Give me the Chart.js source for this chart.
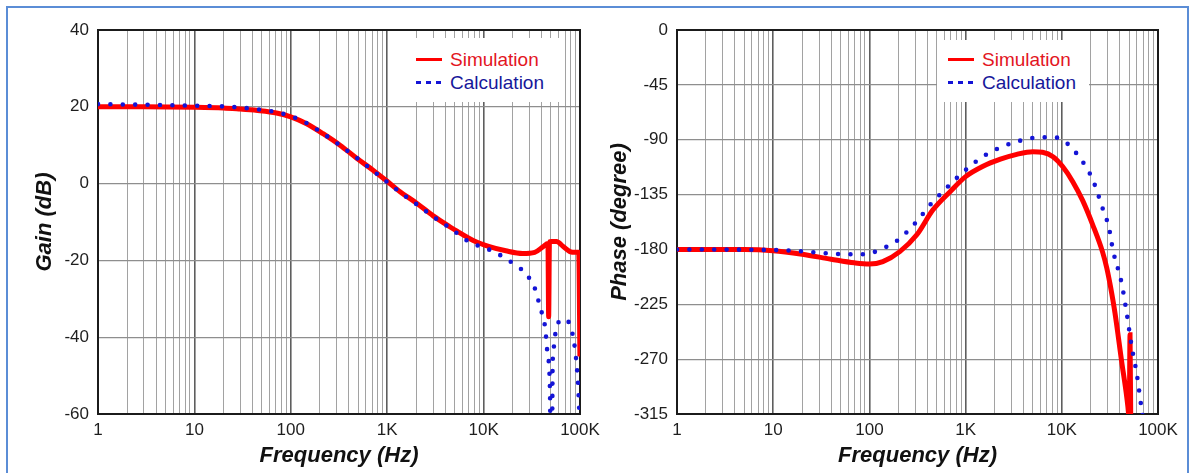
<!DOCTYPE html>
<html>
<head>
<meta charset="utf-8">
<script src="https://cdn.jsdelivr.net/npm/chart.js@4.4.1/dist/chart.umd.min.js"></script>
<style>
  html, body { margin: 0; padding: 0; background: #fff; }
  body { width: 1194px; height: 473px; position: relative; overflow: hidden;
         font-family: 'Liberation Sans', Arial, sans-serif; }
  #frame { position: absolute; left: 6px; top: 6px; width: 1183px; height: 490px;
           border: 2px solid #5b8dd6; box-sizing: border-box; }
  canvas { position: absolute; top: 0; }
  #gainCanvas { left: 0; }
  #phaseCanvas { left: 597px; }
  .legend { position: absolute; background: #fff; box-sizing: border-box; font-size: 19px; }
  .legend .row { height: 23px; display: flex; align-items: center; white-space: nowrap; }
  .legend .swatch { width: 26px; height: 3px; margin-right: 8px; flex: none; }
  #gainLegend { left: 410px; top: 38px; width: 150px; height: 64px; padding: 10px 0 0 6px; }
  #phaseLegend { left: 937px; top: 40px; width: 152px; height: 62px; padding: 8px 0 0 11px; }
</style>
</head>
<body>
<div id="frame"></div>
<canvas id="gainCanvas" width="620" height="473"></canvas>
<canvas id="phaseCanvas" width="597" height="473"></canvas>
<div id="gainLegend" class="legend"></div>
<div id="phaseLegend" class="legend"></div>
<script>
// ---- Frequency axis (Hz) ----
const decadeTicks  = [1, 10, 100, 1000, 10000, 100000];
const decadeLabels = ['1', '10', '100', '1K', '10K', '100K'];
const minorSteps   = [2, 3, 4, 5, 6, 7, 8, 9];

// ---- Value axes ----
const gainTicks  = [40, 20, 0, -20, -40, -60];
const phaseTicks = [0, -45, -90, -135, -180, -225, -270, -315];

// ---- Gain, simulation ----
const gainSimFreq = [1, 3, 10, 20, 30, 48, 71, 100, 146, 216, 324, 483, 713, 1000, 1360, 2020, 3000,
  4500, 5300, 7800, 11500, 17000, 25400, 33900, 41500, 46500, 47300, 48200, 50400, 57000, 67000,
  78600, 90000, 97000, 99800];
const gainSimDb = [20, 20, 19.9, 19.7, 19.4, 19.0, 18.4, 17.4, 15.6, 13.0, 10.0, 6.6, 3.5, 0.6, -2.1, -5.1, -8.4,
  -11.3, -12.4, -14.8, -16.4, -17.5, -18.2, -17.9, -16.4, -15.6, -34.7, -15.2, -15.1, -15.1, -16.4,
  -17.7, -17.9, -17.9, -45];

// ---- Gain, calculation ----
const gainCalcFreq = [1, 2, 4, 10, 20, 30, 50, 70, 100, 150, 220, 330, 500, 700, 1000, 1400, 2000, 3000,
  4500, 7100, 11200, 16300, 23900, 28400, 31000, 35500, 37800, 43400, 45800, 48800, 49600, 51200,
  52000, 52800, 56400, 62600, 72000, 81000, 86000, 92000, 96000, 99900];
const gainCalcDb = [20.7, 20.6, 20.5, 20.3, 20.1, 19.8, 19.2, 18.6, 17.6, 15.6, 12.9, 9.8, 6.4, 3.5, 0.4, -2.5, -5.3, -8.6,
  -11.6, -15.2, -17.1, -19.2, -22.1, -23.5, -25.8, -28.4, -31.6, -37.3, -43.8, -53.8, -70, -70,
  -47.5, -44.2, -38, -35.7, -35.3, -37.9, -40.7, -46.8, -53.3, -64];

// ---- Phase, simulation ----
const phaseSimFreq = [1, 5, 10, 20, 40, 70, 100, 138, 207, 311, 456, 690, 1000, 1500, 2300, 3400, 5000,
  6300, 8100, 10200, 13000, 16500, 21000, 26500, 29300, 32000, 35700, 41900, 47300, 49300, 50200, 51200, 52200];
const phaseSimDeg = [-180, -180, -181, -184, -188, -191, -192, -190, -181.8, -168, -147.7, -132.6, -120.3, -112, -106, -102, -99.8,
  -100.3, -103.9, -112, -124.4, -140, -160, -182, -195, -210, -232, -272, -301, -314, -325, -250, -335];

// ---- Phase, calculation ----
const phaseCalcFreq = [1, 10, 20, 36, 65, 85, 107, 140, 198, 311, 425, 580, 937, 1500, 2400, 3600, 6000,
  8000, 10200, 16000, 21000, 26500, 31000, 34000, 41900, 47300, 53300, 60000, 67800, 72000];
const phaseCalcDeg = [-180, -180.5, -181.5, -183.2, -184, -184, -182.7, -179, -172.3, -157, -143.6, -132.6, -116.8, -104, -95.7, -91, -88,
  -88, -90.2, -106.6, -123, -146, -162.6, -180.5, -207.8, -232.4, -259.8, -281.6, -311.7, -325];

const seriesLabels = ['Simulation', 'Calculation'];
const labelColors  = ['#e3161f', '#17179a'];

const FONT = "'Liberation Sans', Arial, sans-serif";

// all grid positions of the log axis: decades plus 2..9 multiples
const logGrid = [];
decadeTicks.forEach((d, i) => {
  logGrid.push(d);
  if (i < decadeTicks.length - 1) minorSteps.forEach(m => logGrid.push(d * m));
});

const pairs = (xs, ys) => xs.map((x, i) => ({ x, y: ys[i] }));

// dark frame round the plotting area
const framePlugin = {
  id: 'plotFrame',
  beforeDatasetsDraw(chart) {
    const { ctx, chartArea: a } = chart;
    ctx.save();
    ctx.strokeStyle = '#1b1b1b';
    ctx.lineWidth = 2;
    ctx.strokeRect(a.left, a.top, a.right - a.left, a.bottom - a.top);
    ctx.restore();
  }
};

function makeChart(canvas, cfg) {
  return new Chart(canvas, {
    type: 'line',
    data: {
      datasets: [
        {
          label: seriesLabels[0],
          data: pairs(cfg.simFreq, cfg.simVals),
          borderColor: '#ff0000',
          borderWidth: 5,
          pointRadius: 0,
          cubicInterpolationMode: 'monotone',
          order: 2
        },
        {
          label: seriesLabels[1],
          data: pairs(cfg.calcFreq, cfg.calcVals),
          borderColor: '#1414d6',
          borderWidth: 4.6,
          borderDash: [0, 12.4],
          borderCapStyle: 'round',
          pointRadius: 0,
          cubicInterpolationMode: 'monotone',
          order: 1
        }
      ]
    },
    options: {
      responsive: false,
      animation: false,
      devicePixelRatio: 1,
      layout: { padding: { left: 0, right: cfg.padRight, top: 30, bottom: 0 } },
      plugins: { legend: { display: false }, tooltip: { enabled: false } },
      scales: {
        x: {
          type: 'logarithmic',
          min: 1,
          max: 100000,
          afterBuildTicks(scale) { scale.ticks = logGrid.map(v => ({ value: v })); },
          afterFit(scale) { scale.height = 59; },
          ticks: {
            autoSkip: false,
            maxRotation: 0,
            padding: 6,
            color: '#1e1e1e',
            font: { family: FONT, size: 17 },
            callback(value) {
              const i = decadeTicks.indexOf(value);
              return i >= 0 ? decadeLabels[i] : '';
            }
          },
          grid: {
            drawTicks: false,
            color: ctx => (ctx.tick && decadeTicks.includes(ctx.tick.value)) ? '#5e5e5e' : '#a2a2a2',
            lineWidth: ctx => (ctx.tick && decadeTicks.includes(ctx.tick.value)) ? 1.6 : 1
          },
          border: { display: false },
          title: {
            display: true,
            text: 'Frequency (Hz)',
            color: '#111',
            font: { family: FONT, size: 22, weight: 'bold', style: 'italic' },
            padding: { top: 0, bottom: 4 }
          }
        },
        y: {
          min: cfg.yTicks[cfg.yTicks.length - 1],
          max: cfg.yTicks[0],
          afterBuildTicks(scale) { scale.ticks = cfg.yTicks.map(v => ({ value: v })); },
          afterFit(scale) { scale.width = cfg.yWidth; },
          ticks: {
            padding: 9,
            color: '#1e1e1e',
            font: { family: FONT, size: 17 },
            callback: value => String(value)
          },
          grid: { drawTicks: false, color: '#8e8e8e', lineWidth: 1.2 },
          border: { display: false },
          title: {
            display: true,
            text: cfg.yTitle,
            color: '#111',
            font: { family: FONT, size: 22, weight: 'bold', style: 'italic' },
            padding: { top: cfg.yTitlePad, bottom: 0 }
          }
        }
      }
    },
    plugins: [framePlugin]
  });
}

function buildLegend(el, chart) {
  chart.data.datasets.forEach((ds, i) => {
    const row = document.createElement('div');
    row.className = 'row';
    const sw = document.createElement('span');
    sw.className = 'swatch';
    if (ds.borderDash) {
      sw.style.background = 'repeating-linear-gradient(to right, ' + ds.borderColor + ' 0 5px, transparent 5px 10px)';
      sw.style.width = '25px';
      sw.style.marginRight = '9px';
    } else {
      sw.style.background = ds.borderColor;
    }
    const tx = document.createElement('span');
    tx.textContent = ds.label;
    tx.style.color = labelColors[i];
    row.appendChild(sw);
    row.appendChild(tx);
    el.appendChild(row);
  });
}

const gainChart = makeChart(document.getElementById('gainCanvas'), {
  simFreq: gainSimFreq, simVals: gainSimDb, calcFreq: gainCalcFreq, calcVals: gainCalcDb,
  yTicks: gainTicks, yTitle: 'Gain (dB)', yWidth: 98, yTitlePad: 32, padRight: 40
});
const phaseChart = makeChart(document.getElementById('phaseCanvas'), {
  simFreq: phaseSimFreq, simVals: phaseSimDeg, calcFreq: phaseCalcFreq, calcVals: phaseCalcDeg,
  yTicks: phaseTicks, yTitle: 'Phase (degree)', yWidth: 80, yTitlePad: 10, padRight: 36
});

buildLegend(document.getElementById('gainLegend'), gainChart);
buildLegend(document.getElementById('phaseLegend'), phaseChart);
</script>
</body>
</html>
